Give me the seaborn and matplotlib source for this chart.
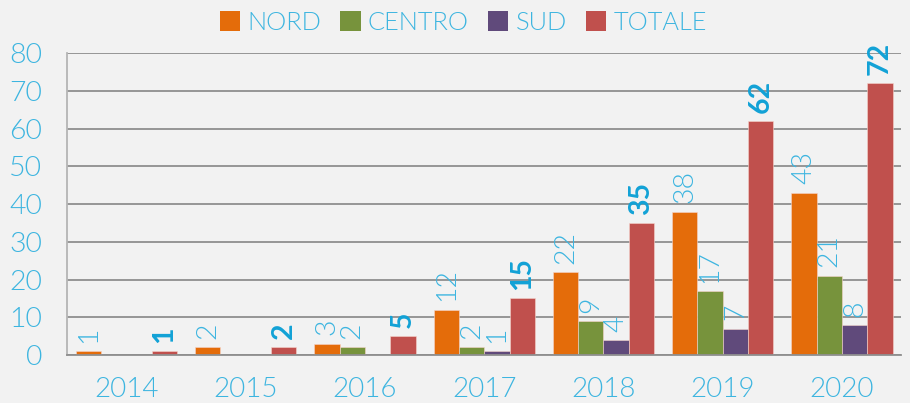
import matplotlib
matplotlib.use("Agg")
import matplotlib.pyplot as plt
import seaborn as sns
import pandas as pd

years = ["2014", "2015", "2016", "2017", "2018", "2019", "2020"]
series = ["NORD", "CENTRO", "SUD", "TOTALE"]
nord = [1, 2, 3, 12, 22, 38, 43]
centro = [0, 0, 2, 2, 9, 17, 21]
sud = [0, 0, 0, 1, 4, 7, 8]
totale = [1, 2, 5, 15, 35, 62, 72]

colors = ["#E46C0A", "#77933C", "#604A7B", "#C0504D"]
txt_light = "#3DB5E0"
txt_bold = "#12A2D6"
bg = "#F2F2F2"
light_w = 300

df = pd.DataFrame({
    "anno": years * 4,
    "area": sum([[s] * len(years) for s in series], []),
    "valore": nord + centro + sud + totale,
})

sns.set_style("white")
plt.rcParams["font.family"] = ["Lato", "DejaVu Sans"]

fig = plt.figure(figsize=(9.1, 4.03), dpi=100, facecolor=bg)
ax = fig.add_axes([0.0736, 0.119, 0.917, 0.749])
ax.set_facecolor(bg)

sns.barplot(data=df, x="anno", y="valore", hue="area", hue_order=series,
            palette=colors, width=0.85, saturation=1, ax=ax,
            edgecolor="#F5D5CC", linewidth=0.4)

ax.set_ylim(0, 80)
ax.set_xlim(-0.5, 6.5)
ax.set_yticks(range(0, 81, 10))
ax.yaxis.grid(True, color="#8F8F8F", linewidth=1.3)
ax.set_axisbelow(True)
ax.set_xlabel("")
ax.set_ylabel("")

for name in ["top", "right"]:
    ax.spines[name].set_visible(False)
ax.spines["left"].set_color("#B5B5B5")
ax.spines["left"].set_linewidth(1.3)
ax.spines["bottom"].set_color("#8F8F8F")
ax.spines["bottom"].set_linewidth(1.3)

ax.tick_params(axis="y", length=0, pad=18, labelsize=20.5, labelcolor=txt_light)
ax.tick_params(axis="x", length=0, pad=16, labelsize=20, labelcolor=txt_light)
for lab in ax.get_xticklabels() + ax.get_yticklabels():
    lab.set_fontweight(light_w)

values = [nord, centro, sud, totale]
for i, cont in enumerate(ax.containers):
    labels = [str(v) if v > 0 else "" for v in values[i]]
    if series[i] == "TOTALE":
        ax.bar_label(cont, labels=labels, rotation=90, padding=6,
                     fontsize=20.5, color=txt_bold, fontweight="bold")
    else:
        ax.bar_label(cont, labels=labels, rotation=90, padding=6,
                     fontsize=20.5, color=txt_light, fontweight=light_w)

leg = ax.legend(loc="center", bbox_to_anchor=(0.475, 1.10), ncol=4,
                frameon=False, fontsize=18.3, handlelength=0.8,
                handleheight=0.8, handletextpad=0.28, columnspacing=0.75,
                borderaxespad=0)
for t in leg.get_texts():
    t.set_color(txt_light)
    t.set_fontweight(light_w)
for h in leg.legend_handles:
    h.set_edgecolor("none")

fig.savefig("out.png", dpi=100, facecolor=bg)
